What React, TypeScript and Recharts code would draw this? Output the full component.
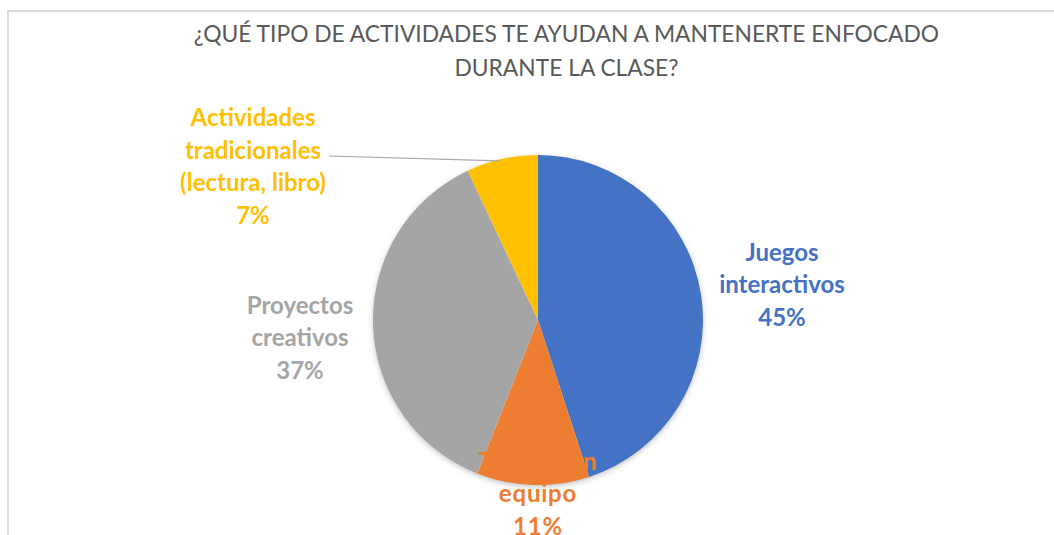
import { PieChart, Pie, Cell } from "recharts"

const categories = [
  "Juegos interactivos",
  "Trabajo en equipo",
  "Proyectos creativos",
  "Actividades tradicionales (lectura, libro)",
]
const values = [45, 11, 37, 7]
const labelLines = [
  ["Juegos", "interactivos"],
  ["Trabajo en", "equipo"],
  ["Proyectos", "creativos"],
  ["Actividades", "tradicionales", "(lectura, libro)"],
]
const colors = ["#4472C4", "#ED7D31", "#A5A5A5", "#FFC000"]

// label block centre, relative to the pie centre
const labelOffsets = [
  { dx: 244, dy: -37 },
  { dx: 0, dy: 172 },
  { dx: -238, dy: 16 },
  { dx: -285, dy: -155 },
]

const data = categories.map((name, i) => ({ name, value: values[i] }))
// whole disc underneath, only there to carry the soft shadow
const shadowData = [{ name: "total", value: values.reduce((a, b) => a + b, 0) }]

const RADIAN = Math.PI / 180
const LINE_H = 32.5

const renderLabel = (props: any) => {
  const { cx, cy, midAngle, outerRadius, index, percent } = props
  const off = labelOffsets[index]
  const x = cx + off.dx
  const y = cy + off.dy
  const lines = [...labelLines[index], `${Math.round(percent * 100)}%`]
  const top = y - ((lines.length - 1) * LINE_H) / 2
  let leader = null
  if (index === 3) {
    const ex = cx + outerRadius * Math.cos(-midAngle * RADIAN)
    const ey = cy + outerRadius * Math.sin(-midAngle * RADIAN)
    leader = <line x1={x + 76} y1={y - 9} x2={ex - 2} y2={ey + 2} stroke="#a6a6a6" strokeWidth={1.2} />
  }
  return (
    <g key={`lbl-${index}`}>
      {leader}
      <text
        x={x}
        y={top}
        fill={colors[index]}
        textAnchor="middle"
        dominantBaseline="central"
        fontFamily="Lato, 'Open Sans', sans-serif"
        fontWeight={700}
        fontSize={24}
        letterSpacing={index === 1 ? 0.8 : 0}
      >
        {lines.map((l, i) => (
          <tspan key={i} x={x} y={top + i * LINE_H}>
            {l}
          </tspan>
        ))}
      </text>
    </g>
  )
}

const App = () => {
  return (
    <div
      style={{
        position: "absolute",
        left: 0,
        top: 0,
        width: 1054,
        height: 535,
        background: "#fff",
        overflow: "hidden",
      }}
    >
      <div
        style={{
          position: "absolute",
          left: 7,
          top: 10,
          width: 1200,
          height: 700,
          border: "2px solid #dadada",
        }}
      />
      <div
        style={{
          position: "absolute",
          left: 0,
          top: 16,
          width: 1133,
          textAlign: "center",
          fontFamily: "Lato, 'Open Sans', sans-serif",
          fontSize: 22.8,
          lineHeight: "34px",
          color: "#595959",
        }}
      >
        ¿QUÉ TIPO DE ACTIVIDADES TE AYUDAN A MANTENERTE ENFOCADO
        <br />
        DURANTE LA CLASE?
      </div>
      <div style={{ position: "absolute", left: 0, top: 0 }}>
        <PieChart width={1054} height={535} margin={{ top: 0, right: 0, bottom: 0, left: 0 }}>
          <Pie
            data={shadowData}
            dataKey="value"
            cx={538}
            cy={320}
            outerRadius={164}
            stroke="none"
            isAnimationActive={false}
          >
            <Cell fill="#ffffff" style={{ filter: "drop-shadow(0px 2px 3px rgba(0,0,0,0.3))" }} />
          </Pie>
          <Pie
            data={data}
            dataKey="value"
            nameKey="name"
            cx={538}
            cy={320}
            outerRadius={165}
            startAngle={90}
            endAngle={-270}
            stroke="none"
            label={renderLabel}
            labelLine={false}
            isAnimationActive={false}
          >
            {data.map((d, i) => (
              <Cell key={d.name} fill={colors[i]} />
            ))}
          </Pie>
        </PieChart>
      </div>
    </div>
  )
}

export default App
